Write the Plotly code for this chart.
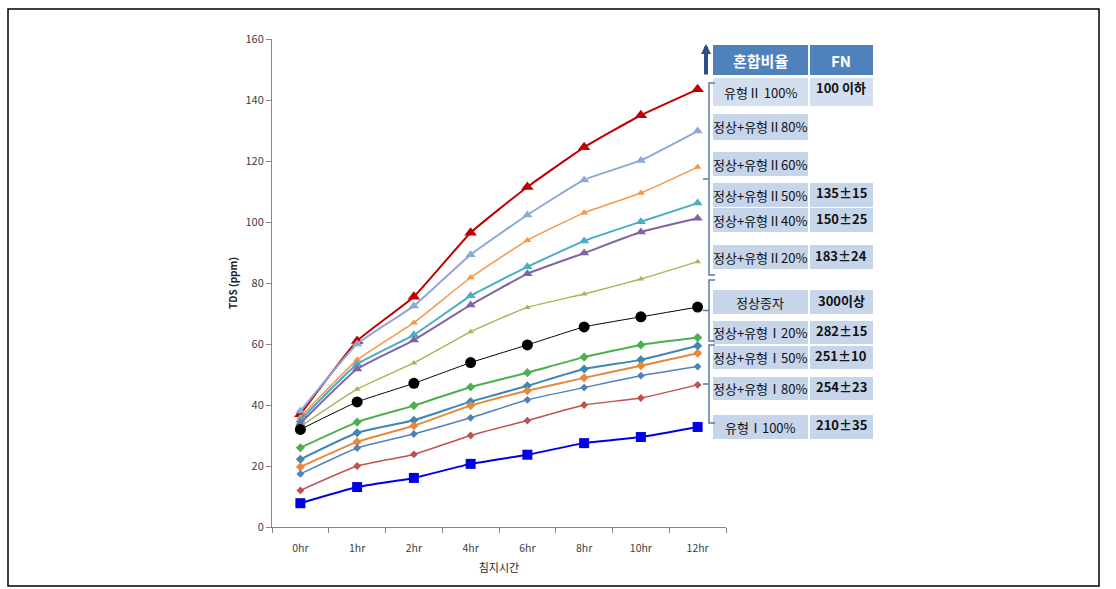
import plotly.graph_objects as go

hours = ["0hr", "1hr", "2hr", "4hr", "6hr", "8hr", "10hr", "12hr"]

type2_100 = [37, 61, 75.5, 96.5, 111.5, 124.5, 135, 143.5]
mix2_80 = [38, 60, 72.5, 89.3, 102.3, 113.8, 120.2, 129.8]
mix2_60 = [36, 54.8, 67, 81.8, 94, 103, 109.5, 118]
mix2_50 = [35, 53.4, 63, 75.8, 85.3, 93.8, 100.1, 106.2]
mix2_40 = [34, 51.8, 61.3, 72.8, 83, 89.8, 96.7, 101.2]
mix2_20 = [33, 45.2, 53.8, 64, 72, 76.4, 81.3, 87]
normal = [32, 41, 47.1, 53.9, 59.7, 65.6, 68.9, 72.1]
mix1_20 = [26, 34.4, 39.8, 45.9, 50.6, 55.7, 59.7, 62.1]
mix1_40 = [22.2, 30.9, 35, 41.1, 46.3, 51.8, 54.8, 59.4]
mix1_50 = [19.7, 27.9, 33.2, 39.8, 44.7, 48.9, 52.9, 57]
mix1_60 = [17.4, 25.9, 30.5, 35.8, 41.7, 45.7, 49.6, 52.6]
mix1_80 = [12, 20, 23.8, 30, 34.9, 40, 42.3, 46.6]
type1_100 = [7.8, 13.1, 16.1, 20.7, 23.7, 27.5, 29.5, 32.8]

# table on the right: label, FN value
table_labels = ["유형Ⅱ 100%", "정상+유형Ⅱ80%", "정상+유형Ⅱ60%", "정상+유형Ⅱ50%",
                "정상+유형Ⅱ40%", "정상+유형Ⅱ20%", "정상종자", "정상+유형Ⅰ20%",
                "정상+유형Ⅰ50%", "정상+유형Ⅰ80%", "유형Ⅰ100%"]
table_fn = ["100 이하", "", "", "135±15", "150±25", "183±24", "300이상",
            "282±15", "251±10", "254±23", "210±35"]

FONT = "Noto Sans CJK KR"

# pixel -> paper helpers (plot area 272..726 x 39..527)
def xp(px):
    return (px - 272) / 454

def yp(py):
    return (527 - py) / 488

series = [
    (type2_100, "유형Ⅱ 100%", "#C00000", 2, "triangle-up", 11),
    (mix2_80, "정상+유형Ⅱ80%", "#8EA9D6", 2, "triangle-up", 9),
    (mix2_60, "정상+유형Ⅱ60%", "#F79646", 1.5, "triangle-up", 7),
    (mix2_50, "정상+유형Ⅱ50%", "#4BACC6", 2, "triangle-up", 9),
    (mix2_40, "정상+유형Ⅱ40%", "#8064A2", 2, "triangle-up", 9),
    (mix2_20, "정상+유형Ⅱ20%", "#9BBB59", 1.5, "triangle-up", 6),
    (normal, "정상종자", "#000000", 1, "circle", 11),
    (mix1_20, "정상+유형Ⅰ20%", "#4CB050", 2, "diamond", 7),
    (mix1_40, "정상+유형Ⅰ40%", "#3F86B4", 2, "diamond", 7),
    (mix1_50, "정상+유형Ⅰ50%", "#E8893A", 2, "diamond", 7),
    (mix1_60, "정상+유형Ⅰ60%", "#4F81BD", 1.5, "diamond", 6),
    (mix1_80, "정상+유형Ⅰ80%", "#C0504D", 1.5, "diamond", 6),
    (type1_100, "유형Ⅰ100%", "#0000E6", 2, "square", 10),
]

fig = go.Figure()

for vals, name, color, lw, sym, size in series:
    fig.add_trace(go.Scatter(
        x=hours, y=vals, name=name, mode="lines+markers",
        line=dict(color=color, width=lw, shape="spline", smoothing=0.4),
        marker=dict(symbol=sym, size=size, color=color),
    ))

shapes = []
annots = []

def label(text, x, y, size=13, color="#111", bold=False):
    if bold:
        text = "<b>" + text + "</b>"
    annots.append(dict(text=text, x=xp(x), y=yp(y), xref="paper", yref="paper",
                       xanchor="center", yanchor="middle", showarrow=False,
                       font=dict(family=FONT, size=size, color=color)))

# outer border
shapes.append(dict(type="rect", xref="paper", yref="paper",
                   x0=xp(8), x1=xp(1099), y0=yp(586), y1=yp(9),
                   line=dict(color="black", width=1.5)))

# header
hdr_blue = "#4F81BD"
shapes.append(dict(type="rect", xref="paper", yref="paper", x0=xp(713), x1=xp(808),
                   y0=yp(75), y1=yp(45), fillcolor=hdr_blue, line_width=0))
shapes.append(dict(type="rect", xref="paper", yref="paper", x0=xp(810), x1=xp(873),
                   y0=yp(75), y1=yp(45), fillcolor=hdr_blue, line_width=0))
label("혼합비율", 760, 60, size=15, color="white", bold=True)
label("FN", 841, 60, size=15, color="white", bold=True)

# rows: (top, bottom) pixel extents
row_box = [(78, 106), (114, 140), (152, 176), (183, 207), (208, 232), (245, 269),
           (290, 314), (321, 344), (346, 369), (377, 400), (415, 439)]
cell_fill = "#C6D5EA"
for lab, fn, (t, b) in zip(table_labels, table_fn, row_box):
    fill = "#D3DEEE" if lab == "유형Ⅱ 100%" else cell_fill
    shapes.append(dict(type="rect", xref="paper", yref="paper", x0=xp(713), x1=xp(808),
                       y0=yp(b), y1=yp(t), fillcolor=fill, line_width=0, layer="below"))
    label(lab, 760, (t + b) / 2)
    if fn or lab == "유형Ⅱ 100%":
        shapes.append(dict(type="rect", xref="paper", yref="paper", x0=xp(810), x1=xp(873),
                           y0=yp(b), y1=yp(t), fillcolor=fill, line_width=0, layer="below"))
    if fn:
        ty = t + 10 if lab == "유형Ⅱ 100%" else (t + b) / 2 - 2
        label(fn, 841, ty, bold=True)

# brackets
br_col = "#5A7AA6"
for top, bot in [(83, 275), (280, 341), (345, 423)]:
    mid = (top + bot) / 2
    path = "M {0},{1} L {2},{1} L {2},{3} L {0},{3} M {2},{4} L {5},{4}".format(
        xp(715), yp(top), xp(709), yp(bot), yp(mid), xp(703))
    shapes.append(dict(type="path", xref="paper", yref="paper", path=path,
                       line=dict(color=br_col, width=1.5)))

# arrow at top
annots.append(dict(x=xp(706), y=yp(44), xref="paper", yref="paper", text="",
                   showarrow=True, ax=0, ay=32, arrowhead=2, arrowsize=0.5,
                   arrowwidth=4, arrowcolor="#2F4F7F"))

fig.update_layout(
    width=1116, height=589,
    margin=dict(l=272, r=390, t=39, b=62),
    paper_bgcolor="white", plot_bgcolor="white",
    showlegend=False,
    font=dict(family=FONT, color="#404040"),
    shapes=shapes, annotations=annots,
    xaxis=dict(
        type="category", range=[-0.5, 7.5], tickson="boundaries",
        ticks="outside", ticklen=5, tickcolor="#868686",
        showline=True, linecolor="#868686", linewidth=1,
        showgrid=False, tickfont=dict(size=10.5, color="#404040"),
        ticklabelstandoff=11,
        title=dict(text="침지시간", font=dict(size=11, color="#222"), standoff=10),
    ),
    yaxis=dict(
        range=[0, 160], dtick=20, ticks="outside", ticklen=5, tickcolor="#868686",
        showline=True, linecolor="#868686", linewidth=1,
        showgrid=False, zeroline=False, tickfont=dict(size=11, color="#404040"),
        title=dict(text="<b>TDS (ppm)</b>", font=dict(size=10, color="#222"), standoff=5),
    ),
)

# page body has a default 8px margin; drop it so the figure sits at the window origin
fig.write_html("out.html", config={"displayModeBar": False},
               post_script="document.body.style.margin='0';")
